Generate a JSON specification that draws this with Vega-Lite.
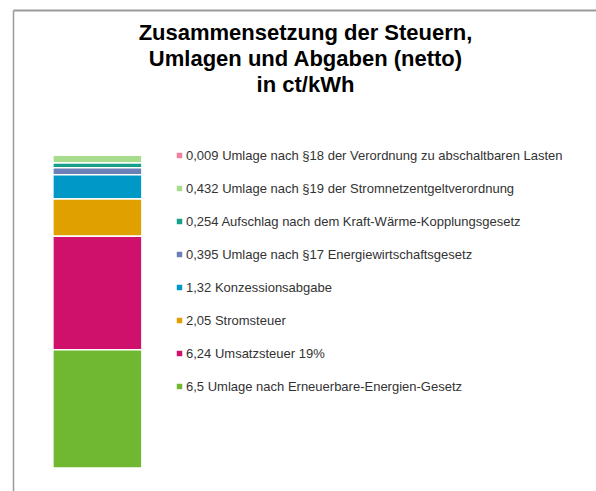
{
  "$schema": "https://vega.github.io/schema/vega-lite/v6.json",
  "width": 596,
  "height": 491,
  "autosize": {"type": "fit", "contains": "padding"},
  "padding": {"left": 13, "top": 10, "right": 0, "bottom": 0},
  "background": "white",
  "config": {
    "view": {"stroke": null},
    "font": "Liberation Sans"
  },
  "data": {
    "values": [
      {"bar": "Strompreis", "label": "0,009 Umlage nach §18 der Verordnung zu abschaltbaren Lasten", "value": 0.009, "order": 8},
      {"bar": "Strompreis", "label": "0,432 Umlage nach §19 der Stromnetzentgeltverordnung", "value": 0.432, "order": 7},
      {"bar": "Strompreis", "label": "0,254 Aufschlag nach dem Kraft-Wärme-Kopplungsgesetz", "value": 0.254, "order": 6},
      {"bar": "Strompreis", "label": "0,395 Umlage nach §17 Energiewirtschaftsgesetz", "value": 0.395, "order": 5},
      {"bar": "Strompreis", "label": "1,32 Konzessionsabgabe", "value": 1.32, "order": 4},
      {"bar": "Strompreis", "label": "2,05 Stromsteuer", "value": 2.05, "order": 3},
      {"bar": "Strompreis", "label": "6,24 Umsatzsteuer 19%", "value": 6.24, "order": 2},
      {"bar": "Strompreis", "label": "6,5 Umlage nach Erneuerbare-Energien-Gesetz", "value": 6.5, "order": 1}
    ]
  },
  "mark": {"type": "bar", "stroke": "white", "strokeWidth": 1.5, "width": 89},
  "encoding": {
    "x": {
      "field": "bar",
      "type": "nominal",
      "scale": {"paddingInner": 0.9, "paddingOuter": 1, "align": 0.127},
      "axis": {
        "orient": "top",
        "domain": true,
        "domainColor": "#9a9a9a",
        "domainWidth": 2,
        "ticks": false,
        "labels": false,
        "title": ["Zusammensetzung der Steuern,", "Umlagen und Abgaben (netto)", "in ct/kWh"],
        "titleX": 292,
        "titleY": 12,
        "titleAnchor": "middle",
        "titleAlign": "center",
        "titleBaseline": "top",
        "titleFontSize": 22,
        "titleFontWeight": "bold",
        "titleColor": "#000000",
        "titleLineHeight": 26,
        "titleFont": "Liberation Sans"
      }
    },
    "y": {
      "field": "value",
      "type": "quantitative",
      "stack": "zero",
      "scale": {"domain": [-1.264, 25.17], "nice": false, "zero": false},
      "axis": {
        "orient": "left",
        "domain": true,
        "domainColor": "#9a9a9a",
        "domainWidth": 1.5,
        "ticks": false,
        "labels": false,
        "grid": false,
        "title": null
      }
    },
    "order": {"field": "order", "type": "quantitative", "sort": "ascending"},
    "color": {
      "field": "label",
      "type": "nominal",
      "sort": null,
      "scale": {
        "domain": [
          "0,009 Umlage nach §18 der Verordnung zu abschaltbaren Lasten",
          "0,432 Umlage nach §19 der Stromnetzentgeltverordnung",
          "0,254 Aufschlag nach dem Kraft-Wärme-Kopplungsgesetz",
          "0,395 Umlage nach §17 Energiewirtschaftsgesetz",
          "1,32 Konzessionsabgabe",
          "2,05 Stromsteuer",
          "6,24 Umsatzsteuer 19%",
          "6,5 Umlage nach Erneuerbare-Energien-Gesetz"
        ],
        "range": ["#f080a2", "#a6dc8c", "#16a08a", "#6a80b6", "#0098c6", "#e0a100", "#d0116b", "#70b832"]
      },
      "legend": {
        "title": null,
        "orient": "none",
        "legendX": 160,
        "legendY": 139,
        "padding": 0,
        "symbolType": "square",
        "symbolSize": 30,
        "symbolStrokeWidth": 0,
        "labelFontSize": 13,
        "labelFont": "Liberation Sans",
        "labelColor": "#333333",
        "labelOffset": 0,
        "labelLimit": 500,
        "rowPadding": 19
      }
    }
  }
}
